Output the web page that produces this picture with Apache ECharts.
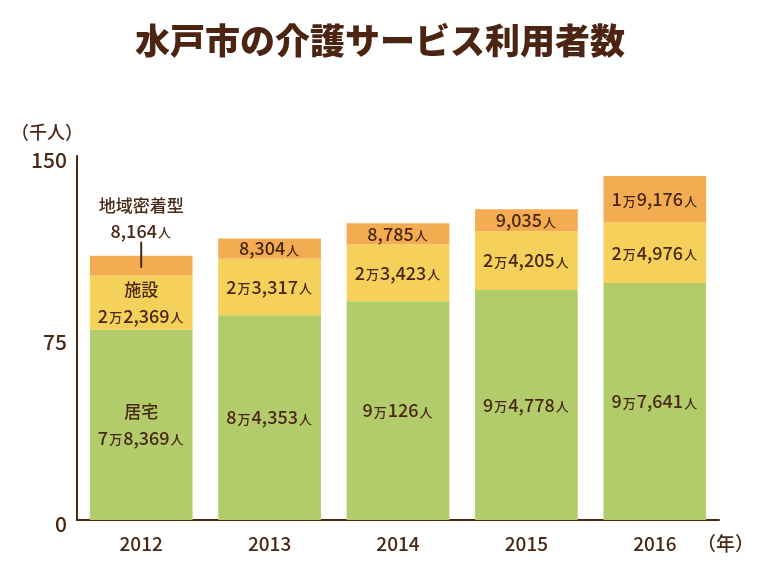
<!DOCTYPE html>
<html><head><meta charset="utf-8">
<script src="https://cdn.jsdelivr.net/npm/echarts@6/dist/echarts.min.js"></script>
<style>html,body{margin:0;padding:0;background:#fff}#c{width:760px;height:570px}</style>
</head><body><div id="c"></div>
<script>
const years = ['2012','2013','2014','2015','2016'];
const kyotaku = [78369, 84353, 90126, 94778, 97641];
const shisetsu = [22369, 23317, 23423, 24205, 24976];
const chiiki = [8164, 8304, 8785, 9035, 19176];
const seriesNames = ['居宅','施設','地域密着型'];
const yTicks = [0, 75, 150];

const FONT = '"Noto Sans CJK JP", "Noto Sans", sans-serif';
const TXT = '#4a2816';
function fmt(n){
  const man = Math.floor(n/10000), rest = n % 10000;
  const r = rest >= 1000 ? Math.floor(rest/1000) + ',' + String(rest%1000).padStart(3,'0') : String(rest);
  return (man ? man + '{s|万}' : '') + r + '{s|人}';
}
const rich = {
  s:{fontSize:13, color:TXT, fontFamily:FONT, fontWeight:500, padding:[3,1,0,1]},
  c:{fontSize:17, color:TXT, fontFamily:FONT, fontWeight:500, lineHeight:26},
  ln:{width:2, height:26, backgroundColor:TXT}
};
function mk(arr, name, color, idx){
  return {
    name, type:'bar', stack:'t', barWidth:'80%', itemStyle:{color},
    data: arr.map((v,i)=>{
      let f;
      if (i===0 && idx<2) f = '{c|' + name + '}\n' + fmt(v);
      else f = fmt(v);
      const item = {value:v/1000, label:{show:true, position:'inside', formatter:f, rich, fontSize:18, fontWeight:500, color:TXT, fontFamily:FONT, lineHeight:26}};
      if (i===0 && idx===2){
        item.label = {show:true, position:'top', offset:[0,16], formatter:'{c|'+name+'}\n'+fmt(v)+'\n{ln|}', rich, fontSize:18, fontWeight:500, color:TXT, fontFamily:FONT, lineHeight:24};
      }
      return item;
    })
  };
}
const chart = echarts.init(document.getElementById('c'));
chart.setOption({
  animation:false,
  title:{text:'水戸市の介護サービス利用者数', left:'center', top:18, textStyle:{fontSize:35, fontWeight:900, color:'#4b2512', fontFamily:FONT}},
  grid:{left:77, right:41, top:156, bottom:50},
  xAxis:{type:'category', data:years, axisTick:{show:false},
    axisLine:{lineStyle:{color:TXT, width:2}},
    axisLabel:{fontSize:19, fontWeight:500, color:TXT, fontFamily:FONT, margin:14},
    name:'（年）', nameLocation:'end', nameGap:-22, nameTextStyle:{fontSize:19, fontWeight:500, color:TXT, fontFamily:FONT, verticalAlign:'top', padding:[14,0,0,0]}},
  yAxis:{type:'value', min:0, max:150, interval:75,
    axisLine:{show:true, lineStyle:{color:TXT, width:2}}, axisTick:{show:false}, splitLine:{show:false},
    axisLabel:{fontSize:21, fontWeight:500, color:TXT, fontFamily:FONT, margin:10,
      formatter:v=>yTicks.includes(v)?'{a|'+v+'}':'',
      rich:{a:{fontSize:21, fontWeight:500, color:TXT, fontFamily:FONT, padding:[8,0,0,0]}}},
    name:'（千人）', nameLocation:'end', nameGap:15, nameTextStyle:{fontSize:18, fontWeight:500, color:TXT, fontFamily:FONT, align:'right', padding:[0,-6,0,0]}},
  series:[
    mk(kyotaku, seriesNames[0], '#b3cc6b', 0),
    mk(shisetsu, seriesNames[1], '#f5d05a', 1),
    mk(chiiki, seriesNames[2], '#f4ac52', 2)
  ]
});
</script></body></html>
